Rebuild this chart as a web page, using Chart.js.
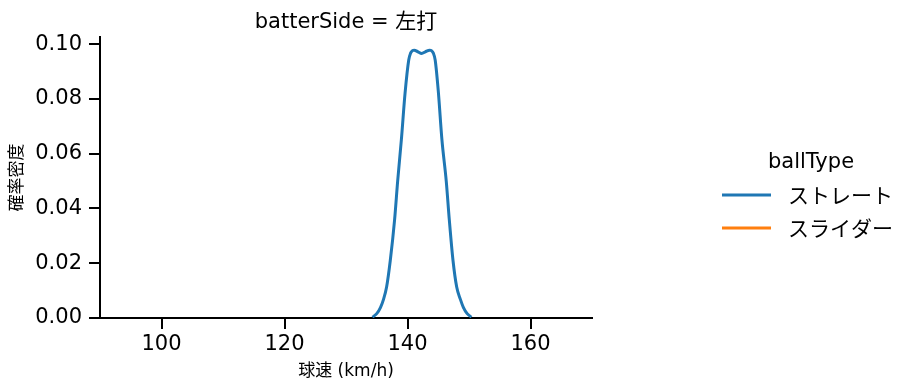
<!DOCTYPE html>
<html>
<head>
<meta charset="utf-8">
<script src="https://cdn.jsdelivr.net/npm/chart.js@4"></script>
<style>
  body { margin: 0; background: #fff; }
  #kde { display: block; }
</style>
</head>
<body>
<canvas id="kde" width="921" height="391"></canvas>
<script>
const FONT = '"DejaVu Sans", "Noto Sans CJK JP", sans-serif';

// 球速 (km/h) と確率密度 — 画像から読み取り
const speeds = [134.3, 135.0, 135.6, 136.1, 136.6, 137.2, 137.9, 138.4, 139.0, 139.6, 140.2, 140.5, 140.8, 141.1, 141.7,
                142.3, 142.9, 143.6, 143.9, 144.2, 144.5, 145.0, 145.6, 146.3, 146.8, 147.4, 148.0, 148.6, 149.1, 149.7, 150.4];
const straightDensity = [0.0003, 0.0016, 0.0038, 0.0068, 0.0113, 0.021, 0.0358, 0.050, 0.065, 0.082, 0.0942, 0.0967, 0.0976, 0.0978, 0.0972,
                         0.0966, 0.0972, 0.0978, 0.0976, 0.0967, 0.0942, 0.083, 0.065, 0.050, 0.0358, 0.021, 0.0113, 0.0068, 0.0038, 0.0016, 0.0003];
const sliderDensity = [];

const seriesLabels = ['ストレート', 'スライダー'];
const seriesColors = ['#1f77b4', '#ff7f0e'];
const xTicks = [100, 120, 140, 160];
const yTicks = [0, 0.02, 0.04, 0.06, 0.08, 0.10];

function toPoints(xs, ys) {
    return ys.map((y, i) => ({ x: xs[i], y: y }));
}

// タイトルと凡例は手で描く
const decorations = {
    id: 'decorations',
    afterDraw(chart) {
        const ctx = chart.ctx;
        const area = chart.chartArea;
        ctx.save();
        ctx.fillStyle = '#000';
        ctx.textBaseline = 'middle';
        ctx.textAlign = 'center';
        ctx.font = '21px ' + FONT;
        ctx.fillText('batterSide = 左打', (area.left + area.right) / 2, 23);

        ctx.fillText('ballType', 811, 163);
        ctx.textAlign = 'left';
        chart.data.datasets.forEach((ds, i) => {
            const y = 195 + i * 33;
            ctx.strokeStyle = ds.borderColor;
            ctx.lineWidth = 3;
            ctx.beginPath();
            ctx.moveTo(722, y);
            ctx.lineTo(771, y);
            ctx.stroke();
            ctx.fillText(ds.label, 788, y + 3);
        });
        ctx.restore();
    }
};

const axisColor = '#000';

new Chart(document.getElementById('kde'), {
    type: 'line',
    data: {
        datasets: [
            { label: seriesLabels[0], data: toPoints(speeds, straightDensity), borderColor: seriesColors[0] },
            { label: seriesLabels[1], data: toPoints(speeds, sliderDensity), borderColor: seriesColors[1] }
        ]
    },
    options: {
        responsive: false,
        animation: false,
        layout: { padding: { top: 37, right: 329, left: 0, bottom: 0 } },
        elements: {
            line: { borderWidth: 3, tension: 0.4, cubicInterpolationMode: 'monotone', fill: false },
            point: { radius: 0 }
        },
        plugins: {
            legend: { display: false },
            title: { display: false },
            tooltip: { enabled: false }
        },
        scales: {
            x: {
                type: 'linear',
                min: 90,
                max: 170,
                afterBuildTicks: (s) => { s.ticks = xTicks.map(v => ({ value: v })); },
                afterFit: (s) => { s.height = 73; },
                border: { display: true, color: axisColor, width: 2 },
                grid: { display: true, drawOnChartArea: false, drawTicks: true, tickLength: 11, color: axisColor, lineWidth: 2 },
                ticks: { color: '#000', font: { family: FONT, size: 21 }, padding: 3, maxRotation: 0 },
                title: { display: true, text: '球速 (km/h)', color: '#000', font: { family: FONT, size: 17 }, padding: 9 }
            },
            y: {
                min: 0,
                max: 0.1026,
                afterBuildTicks: (s) => { s.ticks = yTicks.map(v => ({ value: v })); },
                afterFit: (s) => { s.width = 100; },
                border: { display: true, color: axisColor, width: 2 },
                grid: { display: true, drawOnChartArea: false, drawTicks: true, tickLength: 11, color: axisColor, lineWidth: 2 },
                ticks: { color: '#000', font: { family: FONT, size: 21 }, padding: 7, callback: (v) => v.toFixed(2) },
                title: { display: true, text: '確率密度', color: '#000', font: { family: FONT, size: 17 }, padding: 7 }
            }
        }
    },
    plugins: [decorations]
});
</script>
</body>
</html>
